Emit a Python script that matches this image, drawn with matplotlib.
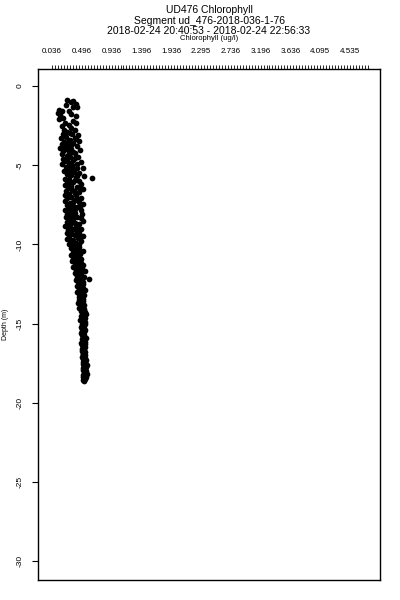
import numpy as np
import matplotlib
matplotlib.use("Agg")
import matplotlib.pyplot as plt

title_lines = ["UD476 Chlorophyll", "Segment ud_476-2018-036-1-76",
               "2018-02-24 20:40:53 - 2018-02-24 22:56:33"]
x_label = "Chlorophyll (ug/l)"
y_label = "Depth (m)"
x_tick_labels = ["0.036", "0.496", "0.936", "1.396", "1.936", "2.295",
                 "2.736", "3.196", "3.636", "4.095", "4.535"]
y_ticks = [0, -5, -10, -15, -20, -25, -30]

pairs = [
    (-0.85,0.27),(-0.95,0.36),(-1.0,0.33),(-1.1,0.40),(-1.2,0.25),(-1.3,0.35),(-1.35,0.41),(-1.5,0.14),
    (-1.55,0.30),(-1.6,0.18),(-1.7,0.12),(-1.75,0.33),(-1.85,0.16),(-1.9,0.40),(-2.0,0.20),(-2.1,0.14),
    (-2.2,0.36),(-2.3,0.24),(-2.35,0.40),(-2.45,0.29),(-2.55,0.18),(-2.65,0.32),(-2.75,0.22),(-2.8,0.38),
    (-2.9,0.27),(-3.0,0.34),(-3.05,0.20),(-3.1,0.43),(-3.2,0.25),(-3.25,0.38),(-3.3,0.17),(-3.4,0.31),
    (-3.45,0.45),(-3.5,0.22),(-3.6,0.36),(-3.65,0.19),(-3.7,0.28),(-3.8,0.41),(-3.85,0.24),(-3.9,0.16),
    (-4.0,0.33),(-4.05,0.46),(-4.1,0.21),(-4.2,0.29),(-4.25,0.38),(-4.3,0.18),(-4.4,0.26),(-4.45,0.43),
    (-4.5,0.31),(-4.6,0.20),(-4.65,0.36),(-4.7,0.24),(-4.8,0.47),(-4.85,0.29),(-4.9,0.19),(-5.0,0.34),
    (-5.1,0.25),(-5.15,0.41),(-5.2,0.50),(-5.3,0.29),(-5.35,0.22),(-5.4,0.37),(-5.5,0.45),(-5.55,0.27),
    (-5.6,0.33),(-5.7,0.52),(-5.75,0.40),(-5.8,0.64),(-5.85,0.24),(-5.9,0.30),(-6.0,0.44),(-6.05,0.36),
    (-6.1,0.27),(-6.2,0.48),(-6.25,0.23),(-6.3,0.33),(-6.4,0.41),(-6.45,0.28),(-6.5,0.50),(-6.6,0.25),
    (-6.65,0.37),(-6.7,0.45),(-6.8,0.30),(-6.85,0.24),(-6.9,0.40),(-7.0,0.33),(-7.05,0.48),(-7.1,0.27),
    (-7.2,0.38),(-7.25,0.23),(-7.3,0.44),(-7.4,0.31),(-7.45,0.51),(-7.5,0.26),(-7.6,0.36),(-7.65,0.42),
    (-7.7,0.29),(-7.8,0.24),(-7.85,0.47),(-7.9,0.34),(-8.0,0.39),(-8.05,0.27),(-8.1,0.49),(-8.2,0.32),
    (-8.25,0.25),(-8.3,0.42),(-8.4,0.36),(-8.45,0.29),(-8.5,0.51),(-8.6,0.26),(-8.65,0.38),(-8.7,0.45),
    (-8.8,0.31),(-8.85,0.24),(-8.9,0.41),(-9.0,0.35),(-9.05,0.48),(-9.1,0.28),(-9.2,0.33),(-9.25,0.44),
    (-9.3,0.26),(-9.4,0.39),(-9.45,0.50),(-9.5,0.30),(-9.6,0.43),(-9.65,0.27),(-9.7,0.36),(-9.8,0.47),
    (-9.85,0.32),(-9.9,0.40),(-10.0,0.29),
    (-10.1,0.36),(-10.15,0.45),(-10.2,0.32),(-10.3,0.41),(-10.4,0.50),(-10.45,0.35),(-10.5,0.39),(-10.6,0.46),
    (-10.7,0.33),(-10.75,0.42),(-10.8,0.37),(-10.9,0.48),(-11.0,0.40),(-11.05,0.34),(-11.1,0.44),(-11.2,0.38),
    (-11.3,0.51),(-11.35,0.42),(-11.4,0.36),(-11.5,0.46),(-11.6,0.40),(-11.65,0.53),(-11.7,0.44),(-11.8,0.38),
    (-11.9,0.48),(-12.0,0.42),(-12.05,0.52),(-12.1,0.45),(-12.2,0.59),(-12.25,0.40),(-12.3,0.47),(-12.4,0.43),
    (-12.5,0.50),(-12.55,0.45),(-12.6,0.41),(-12.7,0.48),(-12.8,0.44),(-12.85,0.53),(-12.9,0.46),(-13.0,0.42),
    (-13.1,0.49),(-13.15,0.45),(-13.2,0.52),(-13.3,0.44),(-13.4,0.48),(-13.45,0.51),(-13.5,0.45),(-13.6,0.49),
    (-13.7,0.43),(-13.8,0.52),(-13.85,0.47),(-13.9,0.50),(-14.0,0.45),
    (-14.1,0.50),(-14.2,0.47),(-14.25,0.53),(-14.3,0.49),(-14.4,0.55),(-14.5,0.48),(-14.6,0.52),(-14.7,0.50),
    (-14.8,0.46),(-14.9,0.54),(-15.0,0.49),(-15.1,0.52),(-15.2,0.48),(-15.3,0.51),(-15.4,0.54),(-15.5,0.49),
    (-15.6,0.47),(-15.7,0.52),(-15.8,0.50),(-15.9,0.55),(-16.0,0.49),(-16.1,0.52),(-16.2,0.48),(-16.3,0.54),
    (-16.4,0.50),(-16.5,0.52),(-16.6,0.49),(-16.7,0.51),(-16.8,0.54),(-16.9,0.50),(-17.0,0.53),(-17.1,0.49),
    (-17.2,0.52),(-17.3,0.55),(-17.4,0.51),(-17.5,0.53),(-17.6,0.56),(-17.7,0.52),(-17.8,0.50),(-17.9,0.54),
    (-18.0,0.55),(-18.1,0.52),(-18.2,0.56),(-18.3,0.53),(-18.4,0.51),(-18.5,0.54),(-18.6,0.52),
    # additional readings filling the dense band
    (-2.95,0.31),(-3.15,0.22),(-3.35,0.40),(-3.55,0.28),(-3.75,0.33),(-3.95,0.25),(-4.15,0.36),(-4.35,0.30),
    (-4.55,0.39),(-4.75,0.27),(-4.95,0.41),(-5.05,0.30),(-5.25,0.35),(-5.45,0.31),(-5.65,0.42),(-5.95,0.38),
    (-6.15,0.31),(-6.35,0.46),(-6.55,0.34),(-6.75,0.39),(-6.95,0.28),(-7.15,0.43),(-7.35,0.35),(-7.55,0.46),
    (-7.75,0.38),(-7.95,0.29),(-8.15,0.37),(-8.35,0.47),(-8.55,0.33),(-8.75,0.40),(-8.95,0.29),(-9.15,0.41),
    (-9.35,0.34),(-9.55,0.45),(-9.75,0.31),(-9.95,0.44),(-10.05,0.40),(-10.25,0.37),(-10.35,0.45),(-10.55,0.43),
    (-10.65,0.38),(-10.85,0.43),(-10.95,0.35),(-11.15,0.48),(-11.25,0.41),(-11.45,0.40),(-11.55,0.49),(-11.75,0.47),
    (-11.85,0.42),(-11.95,0.45),(-12.15,0.41),(-12.35,0.51),(-12.45,0.46),(-12.65,0.45),(-12.75,0.51),(-12.95,0.49),
    (-13.05,0.46),(-13.25,0.48),(-13.35,0.47),(-13.55,0.50),(-13.65,0.46),(-13.75,0.48),(-13.95,0.48),(-14.05,0.52),
    (-14.15,0.49),(-14.35,0.52),(-14.45,0.51),(-14.55,0.49),(-14.65,0.53),(-14.75,0.48),(-14.85,0.51),(-14.95,0.50),
    (-15.05,0.53),(-15.15,0.50),(-15.25,0.52),(-15.35,0.49),(-15.45,0.51),(-15.55,0.52),(-15.65,0.50),(-15.75,0.49),
    (-15.85,0.52),(-15.95,0.51),(-16.05,0.50),(-16.15,0.53),(-16.25,0.51),(-16.35,0.49),(-16.45,0.53),(-16.55,0.50),
    (-16.65,0.52),(-16.75,0.49),(-16.85,0.52),(-16.95,0.51),(-17.05,0.50),(-17.15,0.53),(-17.25,0.50),(-17.35,0.52),
    (-17.45,0.54),(-17.55,0.51),(-17.65,0.53),(-17.75,0.55),(-17.85,0.52),(-17.95,0.51),(-18.05,0.53),(-18.15,0.54),
    (-18.25,0.51),(-18.35,0.55),(-18.45,0.53),(-18.55,0.51),
]
depth = [p[0] for p in pairs]
chl = [p[1] for p in pairs]

plt.rcParams['font.family'] = ['Liberation Sans', 'DejaVu Sans']
fig = plt.figure(figsize=(4, 6), dpi=100)
ax = fig.add_axes([0.095, 0.0333, 0.855, 0.8517])
ax.scatter(chl, depth, s=17, c='black', marker='o', linewidths=0)

ax.set_xlim(-0.175, 4.99)
ax.set_ylim(-31.2, 1.08)

major = [0.036 + 0.45 * i for i in range(len(x_tick_labels))]
ax.xaxis.tick_top()
ax.set_xticks(major)
ax.set_xticklabels(x_tick_labels, fontsize=5.8)
ax.set_xticks([0.036 + 0.045 * i for i in range(107)], minor=True)
ax.tick_params(axis='x', which='major', length=3, width=0.6, pad=7, direction='out')
ax.tick_params(axis='x', which='minor', length=3, width=0.6, direction='out')

ax.set_yticks(y_ticks)
ax.set_yticklabels([str(v) for v in y_ticks], fontsize=6, rotation=90, va='center')
ax.tick_params(axis='y', length=4, width=0.8, pad=6)
ax.set_ylabel(y_label, fontsize=5)
ax.yaxis.set_label_coords(-0.085, 0.5)

for sp in ax.spines.values():
    sp.set_linewidth(1.0)

fig.text(0.5225, 1 - 10/600, title_lines[0], ha='center', va='center', fontsize=7.5)
fig.text(0.5225, 1 - 20.5/600, title_lines[1], ha='center', va='center', fontsize=7.5)
fig.text(0.5225, 1 - 31/600, title_lines[2], ha='center', va='center', fontsize=7.5)
fig.text(0.5225, 1 - 39/600, x_label, ha='center', va='center', fontsize=5.5)

fig.savefig("out.png", dpi=100)
